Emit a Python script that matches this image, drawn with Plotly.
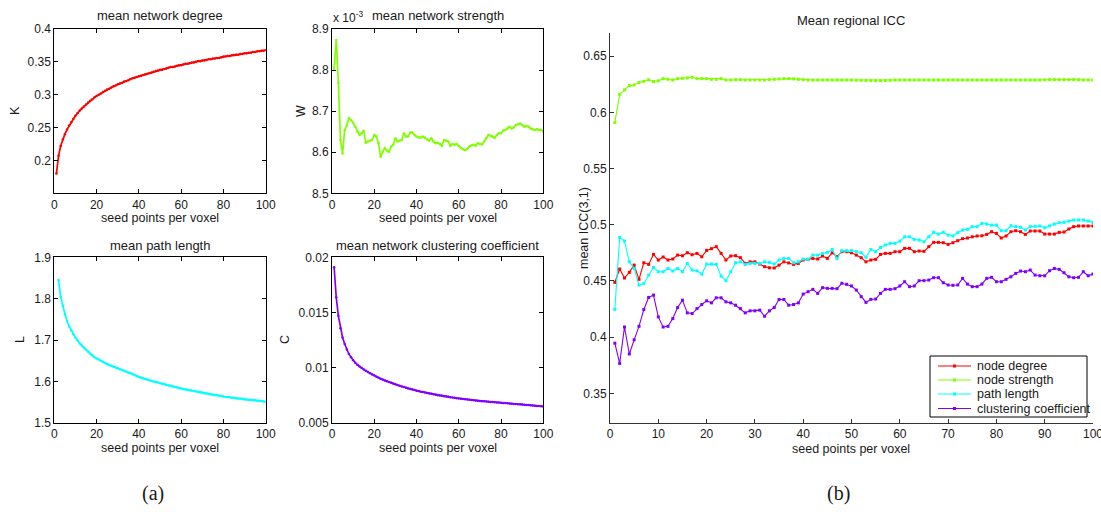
import plotly.graph_objects as go

W_PX, H_PX = 1101, 512

seed_points = list(range(1, 101))

# ---- panel (a): whole-network measures vs. seed points per voxel ----
mean_degree = [
    0.180, 0.207, 0.222, 0.232, 0.240, 0.247, 0.253, 0.258, 0.263, 0.268,
    0.272, 0.276, 0.279, 0.282, 0.285, 0.288, 0.291, 0.293, 0.296, 0.298,
    0.300, 0.302, 0.304, 0.306, 0.308, 0.309, 0.311, 0.313, 0.314, 0.316,
    0.317, 0.318, 0.320, 0.321, 0.322, 0.324, 0.325, 0.326, 0.327, 0.328,
    0.329, 0.330, 0.331, 0.332, 0.333, 0.334, 0.335, 0.336, 0.337, 0.338,
    0.338, 0.339, 0.340, 0.341, 0.342, 0.342, 0.343, 0.344, 0.345, 0.345,
    0.346, 0.347, 0.347, 0.348, 0.349, 0.349, 0.350, 0.351, 0.351, 0.352,
    0.352, 0.353, 0.354, 0.354, 0.355, 0.355, 0.356, 0.356, 0.357, 0.358,
    0.358, 0.359, 0.359, 0.360, 0.360, 0.361, 0.361, 0.362, 0.362, 0.363,
    0.363, 0.364, 0.364, 0.365, 0.365, 0.366, 0.366, 0.367, 0.367, 0.368,
]

# mean network strength, in units of 1e-3
mean_strength_e3 = [
    8.803, 8.873, 8.769, 8.630, 8.597, 8.654, 8.666, 8.683, 8.678, 8.672,
    8.662, 8.650, 8.642, 8.646, 8.652, 8.623, 8.626, 8.628, 8.630, 8.642,
    8.638, 8.622, 8.589, 8.601, 8.610, 8.604, 8.601, 8.614, 8.618, 8.634,
    8.626, 8.628, 8.630, 8.646, 8.638, 8.638, 8.648, 8.648, 8.642, 8.638,
    8.636, 8.636, 8.638, 8.635, 8.631, 8.628, 8.634, 8.626, 8.622, 8.623,
    8.620, 8.616, 8.630, 8.628, 8.626, 8.616, 8.620, 8.618, 8.620, 8.615,
    8.610, 8.607, 8.605, 8.608, 8.614, 8.617, 8.618, 8.616, 8.622, 8.620,
    8.619, 8.626, 8.634, 8.642, 8.640, 8.638, 8.635, 8.642, 8.646, 8.646,
    8.653, 8.654, 8.658, 8.662, 8.658, 8.660, 8.666, 8.668, 8.670, 8.666,
    8.662, 8.664, 8.662, 8.658, 8.656, 8.654, 8.656, 8.654, 8.654, 8.650,
]

# path length is undefined for a single seed point
mean_path_length = [
    None, 1.845, 1.805, 1.783, 1.762, 1.746, 1.733, 1.723, 1.714, 1.706,
    1.699, 1.692, 1.687, 1.682, 1.677, 1.672, 1.667, 1.663, 1.659, 1.656,
    1.653, 1.650, 1.647, 1.645, 1.642, 1.640, 1.638, 1.636, 1.634, 1.632,
    1.630, 1.628, 1.626, 1.624, 1.622, 1.620, 1.618, 1.616, 1.613, 1.611,
    1.609, 1.608, 1.606, 1.605, 1.603, 1.602, 1.600, 1.599, 1.598, 1.596,
    1.595, 1.594, 1.592, 1.591, 1.590, 1.588, 1.587, 1.586, 1.584, 1.583,
    1.582, 1.581, 1.580, 1.579, 1.578, 1.577, 1.576, 1.575, 1.574, 1.573,
    1.572, 1.571, 1.570, 1.569, 1.568, 1.567, 1.567, 1.566, 1.565, 1.564,
    1.563, 1.563, 1.562, 1.561, 1.561, 1.560, 1.559, 1.559, 1.558, 1.557,
    1.557, 1.556, 1.556, 1.555, 1.555, 1.554, 1.554, 1.553, 1.552, 1.551,
]

mean_clustering = [
    0.01910, 0.01638, 0.01470, 0.01357, 0.01274, 0.01215, 0.01165, 0.01125, 0.01095, 0.01068,
    0.01045, 0.01027, 0.01012, 0.00998, 0.00985, 0.00972, 0.00961, 0.00950, 0.00939, 0.00929,
    0.00919, 0.00910, 0.00901, 0.00893, 0.00885, 0.00878, 0.00871, 0.00864, 0.00857, 0.00850,
    0.00843, 0.00837, 0.00831, 0.00825, 0.00819, 0.00813, 0.00808, 0.00803, 0.00798, 0.00793,
    0.00789, 0.00784, 0.00780, 0.00776, 0.00772, 0.00768, 0.00764, 0.00760, 0.00756, 0.00752,
    0.00749, 0.00746, 0.00743, 0.00740, 0.00737, 0.00734, 0.00731, 0.00728, 0.00725, 0.00722,
    0.00720, 0.00718, 0.00715, 0.00713, 0.00711, 0.00709, 0.00706, 0.00704, 0.00702, 0.00700,
    0.00698, 0.00696, 0.00695, 0.00693, 0.00691, 0.00690, 0.00688, 0.00686, 0.00685, 0.00683,
    0.00681, 0.00680, 0.00678, 0.00677, 0.00675, 0.00673, 0.00672, 0.00670, 0.00669, 0.00667,
    0.00665, 0.00663, 0.00662, 0.00660, 0.00658, 0.00657, 0.00655, 0.00653, 0.00652, 0.00650,
]

# ---- panel (b): mean regional ICC(3,1) ----
icc_node_degree = [
    0.4487, 0.4606, 0.4526, 0.4576, 0.4641, 0.4514, 0.4662, 0.4647, 0.4736, 0.4686,
    0.4713, 0.4686, 0.4695, 0.4730, 0.4724, 0.4751, 0.4733, 0.4745, 0.4715, 0.4772,
    0.4787, 0.4805, 0.4745, 0.4686, 0.4722, 0.4725, 0.4707, 0.4656, 0.4670, 0.4670,
    0.4650, 0.4627, 0.4617, 0.4615, 0.4641, 0.4670, 0.4660, 0.4647, 0.4656, 0.4686,
    0.4692, 0.4700, 0.4695, 0.4722, 0.4700, 0.4750, 0.4715, 0.4760, 0.4760, 0.4751,
    0.4730, 0.4707, 0.4670, 0.4686, 0.4692, 0.4736, 0.4745, 0.4745, 0.4760, 0.4760,
    0.4790, 0.4790, 0.4760, 0.4766, 0.4763, 0.4805, 0.4843, 0.4843, 0.4840, 0.4825,
    0.4840, 0.4858, 0.4876, 0.4882, 0.4893, 0.4900, 0.4902, 0.4914, 0.4938, 0.4923,
    0.4882, 0.4900, 0.4938, 0.4947, 0.4938, 0.4914, 0.4944, 0.4944, 0.4944, 0.4917,
    0.4917, 0.4917, 0.4932, 0.4935, 0.4962, 0.4983, 0.4989, 0.4989, 0.4989, 0.4989,
]

icc_node_strength = [
    0.5910, 0.6160, 0.6200, 0.6238, 0.6244, 0.6265, 0.6276, 0.6290, 0.6274, 0.6280,
    0.6300, 0.6294, 0.6288, 0.6300, 0.6303, 0.6306, 0.6312, 0.6300, 0.6300, 0.6300,
    0.6294, 0.6294, 0.6300, 0.6288, 0.6288, 0.6291, 0.6291, 0.6288, 0.6288, 0.6288,
    0.6288, 0.6288, 0.6291, 0.6294, 0.6297, 0.6300, 0.6300, 0.6298, 0.6294, 0.6291,
    0.6288, 0.6288, 0.6288, 0.6288, 0.6288, 0.6288, 0.6288, 0.6288, 0.6288, 0.6288,
    0.6286, 0.6285, 0.6284, 0.6283, 0.6282, 0.6282, 0.6283, 0.6285, 0.6288, 0.6288,
    0.6288, 0.6288, 0.6288, 0.6288, 0.6288, 0.6288, 0.6288, 0.6288, 0.6288, 0.6288,
    0.6288, 0.6288, 0.6288, 0.6288, 0.6288, 0.6288, 0.6288, 0.6288, 0.6288, 0.6288,
    0.6288, 0.6288, 0.6288, 0.6288, 0.6288, 0.6288, 0.6288, 0.6288, 0.6288, 0.6290,
    0.6291, 0.6291, 0.6291, 0.6291, 0.6291, 0.6291, 0.6290, 0.6288, 0.6288, 0.6288,
]

icc_path_length = [
    0.4247, 0.4888, 0.4855, 0.4670, 0.4611, 0.4463, 0.4478, 0.4552, 0.4620, 0.4582,
    0.4582, 0.4611, 0.4588, 0.4611, 0.4582, 0.4656, 0.4597, 0.4590, 0.4561, 0.4650,
    0.4650, 0.4647, 0.4543, 0.4502, 0.4582, 0.4662, 0.4670, 0.4647, 0.4656, 0.4656,
    0.4656, 0.4670, 0.4665, 0.4650, 0.4686, 0.4700, 0.4700, 0.4662, 0.4670, 0.4695,
    0.4692, 0.4730, 0.4730, 0.4745, 0.4754, 0.4780, 0.4700, 0.4769, 0.4769, 0.4769,
    0.4760, 0.4751, 0.4710, 0.4780, 0.4760, 0.4798, 0.4820, 0.4834, 0.4834, 0.4855,
    0.4893, 0.4893, 0.4870, 0.4864, 0.4849, 0.4893, 0.4932, 0.4917, 0.4932, 0.4908,
    0.4900, 0.4929, 0.4953, 0.4959, 0.4983, 0.4983, 0.5012, 0.5006, 0.4997, 0.4997,
    0.4947, 0.4947, 0.4991, 0.4983, 0.4977, 0.4953, 0.4983, 0.4986, 0.4989, 0.4974,
    0.4989, 0.5006, 0.5018, 0.5021, 0.5033, 0.5042, 0.5042, 0.5042, 0.5033, 0.5021,
]

icc_clustering = [
    0.3946, 0.3766, 0.4090, 0.3850, 0.3976, 0.4096, 0.4246, 0.4353, 0.4374, 0.4180,
    0.4090, 0.4096, 0.4165, 0.4263, 0.4329, 0.4216, 0.4210, 0.4254, 0.4290, 0.4323,
    0.4305, 0.4350, 0.4350, 0.4314, 0.4305, 0.4284, 0.4254, 0.4216, 0.4234, 0.4234,
    0.4240, 0.4186, 0.4234, 0.4263, 0.4335, 0.4335, 0.4284, 0.4290, 0.4305, 0.4383,
    0.4404, 0.4425, 0.4389, 0.4440, 0.4434, 0.4434, 0.4431, 0.4479, 0.4470, 0.4455,
    0.4419, 0.4360, 0.4309, 0.4336, 0.4339, 0.4389, 0.4425, 0.4425, 0.4431, 0.4455,
    0.4493, 0.4449, 0.4455, 0.4502, 0.4502, 0.4508, 0.4529, 0.4529, 0.4484, 0.4464,
    0.4461, 0.4464, 0.4523, 0.4472, 0.4449, 0.4449, 0.4472, 0.4523, 0.4532, 0.4493,
    0.4493, 0.4514, 0.4537, 0.4567, 0.4588, 0.4582, 0.4597, 0.4552, 0.4546, 0.4546,
    0.4591, 0.4611, 0.4603, 0.4573, 0.4537, 0.4529, 0.4532, 0.4582, 0.4546, 0.4561,
]

legend_names = ["node degree", "node strength", "path length", "clustering coefficient"]

x_ticks_small = [0, 20, 40, 60, 80, 100]
x_ticks_large = [0, 10, 20, 30, 40, 50, 60, 70, 80, 90, 100]
deg_ticks = [0.2, 0.25, 0.3, 0.35, 0.4]
str_ticks = [8.5, 8.6, 8.7, 8.8, 8.9]
len_ticks = [1.5, 1.6, 1.7, 1.8, 1.9]
clu_ticks = [0.005, 0.01, 0.015, 0.02]
icc_ticks = [0.35, 0.4, 0.45, 0.5, 0.55, 0.6, 0.65]

RED, GREEN, CYAN, PURPLE = "#ff0000", "#80ff00", "#00ffff", "#8000ff"
FONT = "Liberation Sans, Arial, sans-serif"
SERIF = "Liberation Serif, Times New Roman, serif"
INK = "#1a1a1a"


def px_x(p):
    return p / W_PX


def px_y(p):
    return 1 - p / H_PX


def fmt(v):
    return ("%g" % v)


fig = go.Figure()

small_series = [
    (mean_degree, RED, "x", "y"),
    (mean_strength_e3, GREEN, "x2", "y2"),
    (mean_path_length, CYAN, "x3", "y3"),
    (mean_clustering, PURPLE, "x4", "y4"),
]
for vals, col, xa, ya in small_series:
    fig.add_trace(go.Scatter(
        x=seed_points, y=vals, mode="lines+markers", xaxis=xa, yaxis=ya,
        line=dict(color=col, width=1.7), marker=dict(color=col, size=2.5),
        showlegend=False, connectgaps=False,
    ))

icc_series = [icc_node_degree, icc_node_strength, icc_path_length, icc_clustering]
icc_colors = [RED, GREEN, CYAN, PURPLE]
for name, vals, col in zip(legend_names, icc_series, icc_colors):
    fig.add_trace(go.Scatter(
        x=seed_points, y=vals, mode="lines+markers", name=name, xaxis="x5", yaxis="y5",
        line=dict(color=col, width=1.1), marker=dict(color=col, size=3, symbol="square"),
        showlegend=False,
    ))


def axis_style(domain, rng, ticks, anchor, mirror, color):
    return dict(domain=domain, range=rng, anchor=anchor, tickvals=ticks,
                ticktext=[fmt(t) for t in ticks], automargin=False,
                showline=True, mirror=mirror, linecolor=color, linewidth=1,
                ticks="inside", ticklen=4, tickcolor=color, showgrid=False, zeroline=False,
                ticklabeloverflow="allow",
                tickfont=dict(family=FONT, size=12, color=INK), fixedrange=True)


col1 = [px_x(54.3), px_x(265.7)]
col2 = [px_x(332), px_x(543.3)]
row1 = [px_y(193.3), px_y(29)]
row2 = [px_y(423), px_y(257.3)]

panels = [
    ("", col1, row1, [0.15, 0.4], deg_ticks),
    ("2", col2, row1, [8.5, 8.9], str_ticks),
    ("3", col1, row2, [1.5, 1.9], len_ticks),
    ("4", col2, row2, [0.005, 0.02], clu_ticks),
]
axes = {}
for sfx, xdom, ydom, yr, yt in panels:
    axes["xaxis" + sfx] = axis_style(xdom, [0, 100], x_ticks_small, "y" + sfx, "allticks", "black")
    axes["yaxis" + sfx] = axis_style(ydom, yr, yt, "x" + sfx, "allticks", "black")

axes["xaxis5"] = axis_style([px_x(610), px_x(1093)], [0, 100], x_ticks_large, "y5", False, "#333333")
axes["yaxis5"] = axis_style([px_y(423), px_y(33)], [0.3236, 0.6706], icc_ticks, "x5", False, "#333333")


def label(text, x, y, size=11, angle=0, family=FONT, anchor="center"):
    return dict(text=text, x=px_x(x), y=px_y(y), xref="paper", yref="paper",
                showarrow=False, xanchor=anchor, yanchor="middle",
                textangle=angle, font=dict(family=family, size=size, color=INK))


annotations = [
    label("mean network degree", 160, 15, 13),
    label("mean network strength", 438, 15, 13),
    label("mean path length", 160, 245, 13),
    label("mean network clustering coefficient", 437, 245, 13),
    label("seed points per voxel", 160, 218, 12.5),
    label("seed points per voxel", 438, 218, 12.5),
    label("seed points per voxel", 160, 448, 12.5),
    label("seed points per voxel", 438, 448, 12.5),
    label("K", 15, 111, 12.5, -90),
    label("W", 301, 111, 12.5, -90),
    label("L", 20, 340, 12.5, -90),
    label("C", 285, 340, 12.5, -90),
    label("x 10<sup>-3</sup>", 348, 17, 12),
    label("Mean regional ICC", 851, 20, 13),
    label("mean ICC(3,1)", 584, 228, 12.5, -90),
    label("seed points per voxel", 851, 449, 12.5),
    label("(a)", 153, 493, 20, 0, SERIF),
    label("(b)", 838, 493, 20, 0, SERIF),
]

# legend box for the ICC panel: frame, line samples with a marker, labels
shapes = [dict(type="rect", xref="paper", yref="paper",
               x0=px_x(930), x1=px_x(1087), y0=px_y(417), y1=px_y(356),
               line=dict(color="black", width=1), fillcolor="white", layer="above")]
legend_rows = [366, 380, 394, 408.5]
for name, col, ry in zip(legend_names, icc_colors, legend_rows):
    shapes.append(dict(type="line", xref="paper", yref="paper",
                       x0=px_x(938), x1=px_x(971), y0=px_y(ry), y1=px_y(ry),
                       line=dict(color=col, width=1.2), layer="above"))
    shapes.append(dict(type="rect", xref="paper", yref="paper",
                       x0=px_x(953), x1=px_x(956), y0=px_y(ry + 1.5), y1=px_y(ry - 1.5),
                       line=dict(color=col, width=0), fillcolor=col, layer="above"))
    annotations.append(label(name, 975, ry, 12.5, 0, FONT, "left"))

fig.update_layout(
    template="none",
    width=W_PX, height=H_PX, margin=dict(l=0, r=0, t=0, b=0, autoexpand=False),
    paper_bgcolor="white", plot_bgcolor="white",
    annotations=annotations,
    shapes=shapes,
    showlegend=False,
    **axes,
)

fig.write_html("out.html", config=dict(displayModeBar=False))
